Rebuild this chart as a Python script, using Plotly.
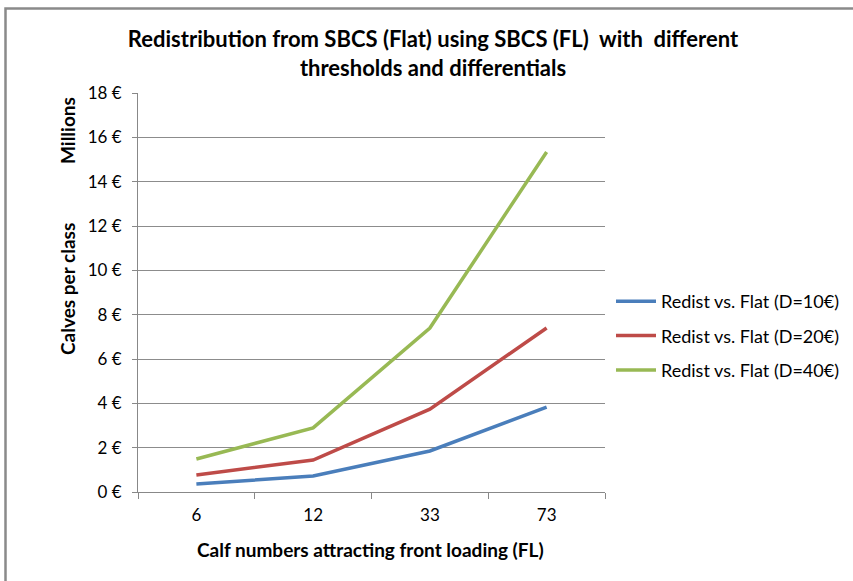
import plotly.graph_objects as go

categories = ["6", "12", "33", "73"]
series_names = ["Redist vs. Flat (D=10€)", "Redist vs. Flat (D=20€)", "Redist vs. Flat (D=40€)"]
d10 = [0.36, 0.72, 1.85, 3.83]
d20 = [0.77, 1.44, 3.74, 7.40]
d40 = [1.49, 2.89, 7.40, 15.34]
colors = ["#4a7ebb", "#be4b48", "#98b954"]
y_ticks = [0, 2, 4, 6, 8, 10, 12, 14, 16, 18]

W, H = 853, 581
L, R, T, B = 138, 605, 93, 492

fig = go.Figure()
for i, (name, vals) in enumerate(zip(series_names, [d10, d20, d40])):
    fig.add_trace(go.Scatter(x=categories, y=vals, mode="lines", name=name,
                             legendgroup=f"g{i}",
                             line=dict(color=colors[i], width=3.5)))

def px_x(px):
    return (px - L) / (R - L)

def px_y(py):
    return (B - py) / (B - T)

font_main = "Lato, Liberation Sans, Arial"
font_text = "Lato, Liberation Sans, Arial"

fig.update_layout(
    width=W, height=H,
    margin=dict(l=L, r=W - R, t=T, b=H - B, autoexpand=False),
    paper_bgcolor="white", plot_bgcolor="white",
    showlegend=True,
    legend=dict(x=px_x(611), y=px_y(283), xanchor="left", yanchor="top",
                font=dict(family=font_text, size=18, color="#000"),
                tracegroupgap=8, itemwidth=40, bgcolor="rgba(0,0,0,0)"),
    title=dict(text="<b>Redistribution from SBCS (Flat) using SBCS (FL)  with  different<br>thresholds and differentials</b>",
               x=433 / W, xanchor="center", y=1 - 47 / H, yanchor="middle",
               font=dict(family=font_main, size=22, color="#000")),
    xaxis=dict(type="category", range=[-0.5, 3.5], tickson="boundaries",
               ticks="outside", ticklen=6, tickcolor="#888888",
               showline=True, linecolor="#888888", linewidth=1,
               showgrid=False, zeroline=False, ticklabelstandoff=8,
               tickfont=dict(family=font_text, size=17, color="#000")),
    yaxis=dict(range=[0, 18], tickvals=y_ticks, ticktext=[f"{v} €" for v in y_ticks],
               ticks="outside", ticklen=5, tickcolor="#888888",
               showline=True, linecolor="#888888", linewidth=1,
               showgrid=True, gridcolor="#8c8c8c", gridwidth=1, zeroline=False,
               ticklabelstandoff=7,
               tickfont=dict(family=font_text, size=17, color="#000")),
)

fig.add_annotation(text="<b>Calf numbers attracting front loading (FL)</b>", xref="paper", yref="paper",
                   x=px_x(370), y=px_y(549), showarrow=False, xanchor="center", yanchor="middle",
                   font=dict(family=font_main, size=19, color="#000"))
fig.add_annotation(text="<b>Calves per class</b>", textangle=-90, xref="paper", yref="paper",
                   x=px_x(67), y=px_y(289), showarrow=False, xanchor="center", yanchor="middle",
                   font=dict(family=font_main, size=19, color="#000"))
fig.add_annotation(text="<b>Millions</b>", textangle=-90, xref="paper", yref="paper",
                   x=px_x(67), y=px_y(131), showarrow=False, xanchor="center", yanchor="middle",
                   font=dict(family=font_main, size=19, color="#000"))

fig.add_shape(type="rect", xref="paper", yref="paper",
              x0=px_x(5.5), x1=px_x(860), y0=px_y(8.5), y1=px_y(590),
              line=dict(color="#8a8a8a", width=2.5), fillcolor="rgba(0,0,0,0)", layer="below")

fig.write_html("out.html", config={"displayModeBar": False},
               post_script="document.body.style.margin='0px';document.body.style.overflow='hidden';")
